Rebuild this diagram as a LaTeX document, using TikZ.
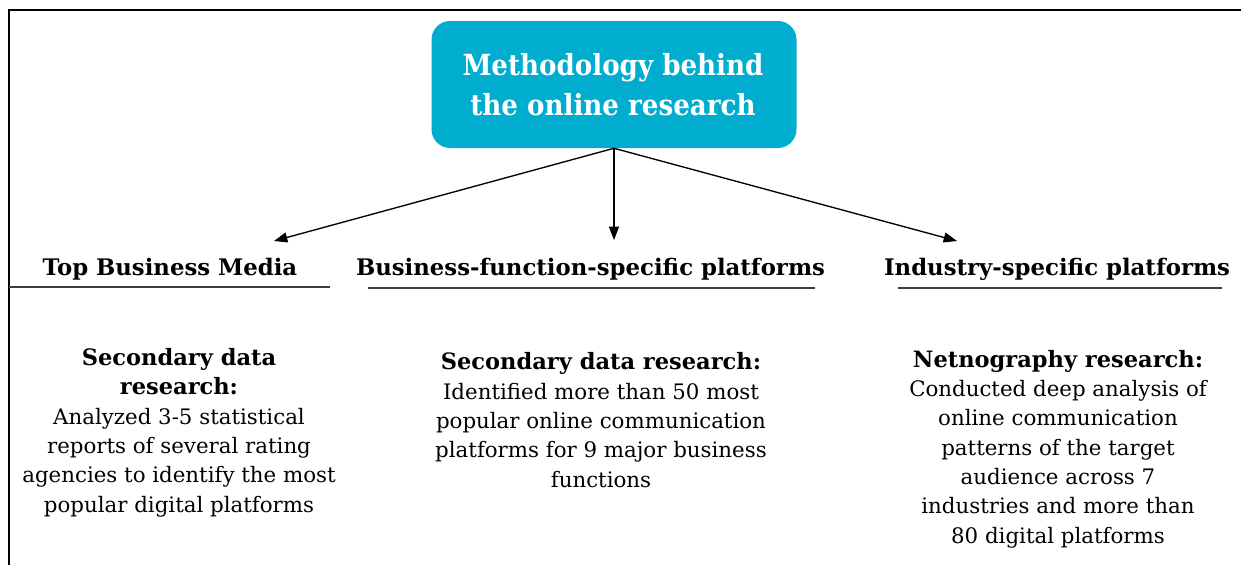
\documentclass[tikz,border=0pt]{standalone}
\usepackage{fontspec}
\setmainfont{DejaVu Serif}
\newfontfamily\hdrfont{DejaVu Serif Condensed}
\usetikzlibrary{arrows.meta}
\definecolor{hdrcyan}{RGB}{0,173,207}
\definecolor{rulegray}{RGB}{60,60,60}
\newcommand{\boldlead}[1]{{\fontsize{16.9}{22}\selectfont\bfseries #1}}
\begin{document}
\begin{tikzpicture}[x=0.75pt,y=-0.75pt,
  frameline/.style={line width=1.6pt,black},
  hdrbox/.style={fill=hdrcyan,draw=none,rounded corners=14pt,minimum width=273.75pt,minimum height=95.25pt,inner sep=0pt},
  hdrtext/.style={text=white,font=\hdrfont\bfseries\fontsize{21.8}{30}\selectfont,align=center,anchor=base,inner sep=0pt},
  headtext/.style={font=\bfseries\fontsize{17.1}{22}\selectfont,anchor=base,inner sep=0pt},
  bodytext/.style={font=\fontsize{16}{22}\selectfont,align=center,anchor=base,inner sep=0pt},
  underline/.style={line width=1.1pt,rulegray},
  connector/.style={line width=1pt,-{Triangle[length=10pt,width=7.5pt]}}]
  \useasboundingbox (0,0) rectangle (1241,565);
  % open frame: top and left edges
  \draw[frameline] (9,565) -- (9,10) -- (1241,10);
  % title box
  \node[hdrbox] (hdr) at (614,84.5) {};
  \node[hdrtext] (hdrt) at (613,115) {Methodology behind\\the online research};
  % column headings
  \node[headtext] (h1) at (170,275) {Top Business Media};
  \node[headtext] (h2) at (590.5,275) {Business-function-specific platforms};
  \node[headtext] (h3) at (1057,275) {Industry-specific platforms};
  \draw[underline] (9,287) -- (330,287);
  \draw[underline] (368,288) -- (815,288);
  \draw[underline] (898,288) -- (1222,288);
  % arrow targets above the headings
  \coordinate (t1) at (274,241);
  \coordinate (t2) at (614,240);
  \coordinate (t3) at (957,241);
  \draw[connector] (hdr.south) -- (t1);
  \draw[connector] (hdr.south) -- (t2);
  \draw[connector] (hdr.south) -- (t3);
  % column descriptions (placed by the baseline of their last line)
  \node[bodytext] (b1) at (179,512) {\boldlead{Secondary data}\\\boldlead{research:}\\Analyzed 3-5 statistical\\reports of several rating\\agencies to identify the most\\popular digital platforms};
  \node[bodytext] (b2) at (601,487) {\boldlead{Secondary data research:}\\Identified more than 50 most\\popular online communication\\platforms for 9 major business\\functions};
  \node[bodytext] (b3) at (1058,543) {\boldlead{Netnography research:}\\Conducted deep analysis of\\online communication\\patterns of the target\\audience across 7\\industries and more than\\80 digital platforms};
\end{tikzpicture}
\end{document}
